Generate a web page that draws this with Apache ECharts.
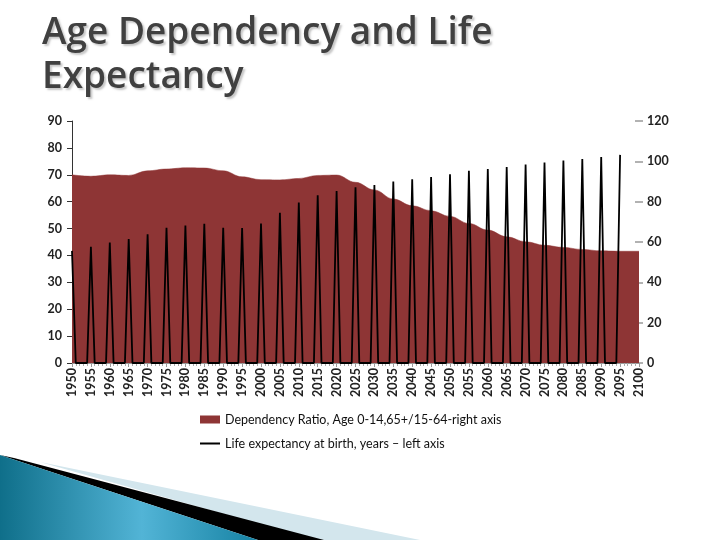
<!DOCTYPE html>
<html>
<head>
<meta charset="utf-8">
<script src="https://cdn.jsdelivr.net/npm/echarts@6/dist/echarts.min.js"></script>
<style>html,body{margin:0;padding:0;background:#fff}#c{width:720px;height:540px}</style>
</head>
<body>
<div id="c"></div>
<script>
// Dependency ratio (right axis), every 5 years 1950..2100
const depYears = [1950,1955,1960,1965,1970,1975,1980,1985,1990,1995,2000,2005,2010,2015,2020,2025,2030,2035,2040,2045,2050,2055,2060,2065,2070,2075,2080,2085,2090,2095,2100];
const depRatio = [93.3,92.6,93.3,93.0,95.3,96.2,96.8,96.7,95.3,92.3,90.9,90.8,91.5,93.0,93.2,89.6,85.8,81.3,78.0,75.5,72.7,69.2,65.9,62.6,60.1,58.4,57.3,56.3,55.6,55.4,55.4];
// Life expectancy at birth (left axis), every 5 years 1950..2095
const lifeYears = [1950,1955,1960,1965,1970,1975,1980,1985,1990,1995,2000,2005,2010,2015,2020,2025,2030,2035,2040,2045,2050,2055,2060,2065,2070,2075,2080,2085,2090,2095];
const lifeExp = [41.7,43.2,44.8,46.1,47.9,50.3,51.1,51.8,50.3,50.2,51.9,55.9,59.7,62.4,64.0,65.4,66.2,67.5,68.3,69.2,70.2,71.5,72.1,72.9,73.8,74.6,75.3,75.9,76.6,77.4];
// Intermediate (non-5-year) years are plotted as zero in the original chart
const lifeGapValue = 0;

const DEP = 'Dependency Ratio, Age 0-14,65+/15-64-right axis';
const LIFE = 'Life expectancy at birth, years \u2013 left axis';

const depData = depYears.map((y, i) => [y, depRatio[i]]);
const lifeData = [];
lifeYears.forEach((y, i) => {
  lifeData.push([y, lifeExp[i]]);
  if (i < lifeYears.length - 1) {
    lifeData.push([y + 1, lifeGapValue]);
    lifeData.push([y + 4, lifeGapValue]);
  }
});

const labelFont = 'Lato, "Liberation Sans", sans-serif';
const chart = echarts.init(document.getElementById('c'), null, {renderer: 'canvas'});
chart.setOption({
  animation: false,
  backgroundColor: '#ffffff',
  title: {
    text: 'Age Dependency and Life\nExpectancy',
    left: 37, top: 6,
    textStyle: {
      fontFamily: '"Open Sans", sans-serif', fontWeight: 600, fontSize: 37,
      color: '#404040', lineHeight: 44,
      textShadowColor: 'rgba(0,0,0,0.22)', textShadowOffsetX: 2, textShadowOffsetY: 2, textShadowBlur: 2
    }
  },
  graphic: [
    {type: 'polygon', z: -10, shape: {points: [[40,462],[420,540],[316,540]]}, style: {fill: '#d3e6ed'}},
    {type: 'polygon', z: -9, shape: {points: [[14,458],[324,540],[258,540],[0,455]]}, style: {fill: '#000000'}},
    {type: 'polygon', z: -8, shape: {points: [[0,455],[258,540],[0,540]]},
      style: {fill: new echarts.graphic.LinearGradient(0, 0, 1, 0, [
        {offset: 0, color: '#0f6f8a'}, {offset: 0.55, color: '#52b4d6'}, {offset: 1, color: '#1682a3'}])}}
  ],
  legend: [
    {left: 200, top: 413, itemWidth: 20, itemHeight: 8, padding: 0,
      data: [{name: DEP, icon: 'rect'}],
      textStyle: {fontFamily: labelFont, fontSize: 12.5, color: '#111'}},
    {left: 200, top: 437, itemWidth: 20, itemHeight: 2, padding: 0,
      data: [{name: LIFE, icon: 'rect'}],
      textStyle: {fontFamily: labelFont, fontSize: 12.5, color: '#111'}}
  ],
  grid: {left: 72, right: 81, top: 121, bottom: 177, containLabel: false},
  xAxis: {
    type: 'value', min: 1950, max: 2100, interval: 5,
    axisLine: {show: true, lineStyle: {color: '#999'}},
    axisTick: {show: true, length: 4, lineStyle: {color: '#999'}},
    minorTick: {show: true, splitNumber: 5, length: 3, lineStyle: {color: '#aaa'}},
    splitLine: {show: false},
    axisLabel: {rotate: 90, margin: 5, fontFamily: labelFont, fontWeight: 'bold', fontSize: 12.5, color: '#222',
      formatter: v => String(v)}
  },
  yAxis: [
    {type: 'value', min: 0, max: 90, interval: 10, position: 'left',
      axisLine: {show: true, lineStyle: {color: '#333'}},
      axisTick: {show: true, length: 5, lineStyle: {color: '#333'}},
      splitLine: {show: false},
      axisLabel: {margin: 10, fontFamily: labelFont, fontWeight: 'bold', fontSize: 12.5, color: '#222'}},
    {type: 'value', min: 0, max: 120, interval: 20, position: 'right', offset: -4,
      axisLine: {show: false},
      axisTick: {show: true, length: 8, lineStyle: {color: '#999', width: 1.5}},
      splitLine: {show: false},
      axisLabel: {margin: 12, fontFamily: labelFont, fontWeight: 'bold', fontSize: 12.5, color: '#222'}}
  ],
  series: [
    {name: DEP, type: 'line', yAxisIndex: 1, data: depData, smooth: 0.4, smoothMonotone: 'x',
      showSymbol: false, symbol: 'none', z: 2,
      itemStyle: {color: '#8e3535'},
      lineStyle: {width: 0.5, color: '#8e3535'},
      areaStyle: {color: '#8e3535', opacity: 1}},
    {name: LIFE, type: 'line', yAxisIndex: 0, data: lifeData, showSymbol: false, symbol: 'none', z: 3,
      itemStyle: {color: '#000000'},
      lineStyle: {width: 1.8, color: '#000000'}}
  ]
});
</script>
</body>
</html>
